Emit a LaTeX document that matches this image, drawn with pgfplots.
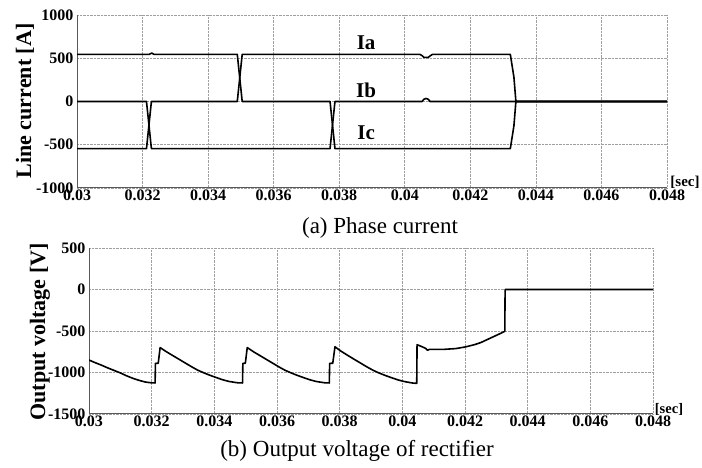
\documentclass[border=0pt]{standalone}
\usepackage{fontspec}
\setmainfont{Liberation Serif}
\usepackage{pgfplots}
\pgfplotsset{compat=1.18}

\pgfplotsset{
  scopestyle/.style={
    scale only axis,
    xmin=0.03, xmax=0.048,
    xtick={0.03,0.032,0.034,0.036,0.038,0.04,0.042,0.044,0.046,0.048},
    xticklabels={0.03,0.032,0.034,0.036,0.038,0.04,0.042,0.044,0.046,0.048},
    major tick length=0pt,
    grid=major,
    grid style={densely dotted, gray!75, line width=0.7pt},
    axis x line*=bottom, axis y line*=left,
    axis line style={-, gray!70!black, line width=1pt},
    ticklabel style={font=\fontsize{16}{16}\selectfont\bfseries},
    xticklabel style={inner sep=2pt},
    /pgf/number format/assume math mode=true,
    scaled ticks=false,
  },
  sig/.style={black, line width=1.6pt, line join=round},
}

\begin{document}
\begin{tikzpicture}
\useasboundingbox (0pt,0pt) rectangle (702pt,468pt);

% (a) phase currents
\begin{axis}[scopestyle,
  at={(77pt,280pt)}, anchor=south west,
  width=590pt, height=173pt,
  ymin=-1000, ymax=1000,
  ytick={-1000,-500,0,500,1000},
  yticklabels={-1000,-500,0,500,1000},
]
\addplot[sig] coordinates {(0.03,545)(0.0322,545)(0.03228,560)(0.03235,545)(0.03489,545)(0.03504,0)(0.03772,0)(0.03787,-545)(0.04040,-545)(0.04322,-545)(0.04333,-280)(0.04339,0)(0.048,0)};
\addplot[sig] coordinates {(0.03,-545)(0.03212,-545)(0.03227,0)(0.03489,0)(0.03504,545)(0.04046,545)(0.04053,530)(0.04058,510)(0.04072,510)(0.04078,530)(0.04085,545)(0.04322,545)(0.04333,280)(0.04339,0)(0.048,0)};
\addplot[sig] coordinates {(0.03,0)(0.03212,0)(0.03227,-545)(0.03772,-545)(0.03787,0)(0.04053,0)(0.04058,25)(0.04065,35)(0.04072,25)(0.04077,0)(0.048,0)};
\node[font=\fontsize{21}{21}\selectfont\bfseries] at (axis cs:0.03882,677) {Ia};
\node[font=\fontsize{21}{21}\selectfont\bfseries] at (axis cs:0.03882,135) {Ib};
\node[font=\fontsize{21}{21}\selectfont\bfseries] at (axis cs:0.03882,-361) {Ic};
\end{axis}

% (b) rectifier output voltage
\begin{axis}[scopestyle,
  at={(89pt,54pt)}, anchor=south west,
  width=564pt, height=166pt,
  ymin=-1500, ymax=500,
  ytick={-1500,-1000,-500,0,500},
  yticklabels={-1500,-1000,-500,0,500},
]
\addplot[sig] coordinates {
(0.03,-850)(0.0302,-882)(0.0304,-912)(0.0306,-945)(0.0308,-975)(0.031,-1005)(0.0312,-1040)(0.0314,-1070)(0.0316,-1095)(0.0318,-1115)(0.032,-1125)(0.03211,-1126)(0.03212,-890)(0.03221,-888)(0.03227,-700)
(0.03247,-750)(0.03267,-795)(0.03287,-840)(0.03307,-885)(0.03327,-930)(0.03347,-972)(0.03367,-1005)(0.03387,-1035)(0.03407,-1062)(0.03427,-1088)(0.03447,-1108)(0.03467,-1120)(0.03477,-1125)(0.0349,-1126)(0.03491,-890)(0.03499,-888)(0.03505,-700)
(0.03525,-750)(0.03545,-795)(0.03565,-840)(0.03585,-885)(0.03605,-930)(0.03625,-972)(0.03645,-1005)(0.03665,-1035)(0.03685,-1062)(0.03705,-1088)(0.03725,-1108)(0.03745,-1120)(0.03755,-1125)(0.03767,-1126)(0.03768,-890)(0.03778,-888)(0.03785,-690)
(0.03805,-745)(0.03825,-792)(0.03845,-838)(0.03865,-883)(0.03885,-928)(0.03905,-970)(0.03925,-1005)(0.03945,-1035)(0.03965,-1062)(0.03985,-1088)(0.04005,-1108)(0.04025,-1122)(0.04035,-1128)(0.04046,-1130)(0.04047,-665)(0.0406,-685)(0.04075,-710)(0.0408,-732)(0.04086,-722)(0.0413,-722)(0.0417,-712)(0.042,-693)(0.0423,-665)(0.0425,-640)(0.0427,-605)(0.0429,-570)(0.0431,-535)(0.04327,-504)(0.04328,0)(0.048,0)};
\end{axis}

% labels and captions
\node[rotate=90, font=\fontsize{22}{22}\selectfont\bfseries] at (25pt,367pt) {Line current [A]};
\node[rotate=90, font=\fontsize{22}{22}\selectfont\bfseries] at (40pt,136pt) {Output voltage [V]};
\node[font=\fontsize{15}{15}\selectfont\bfseries] at (685pt,286pt) {[sec]};
\node[font=\fontsize{14.5}{14.5}\selectfont\bfseries] at (669pt,59pt) {[sec]};
\node[font=\fontsize{23}{23}\selectfont] at (380pt,240pt) {(a) Phase current};
\node[font=\fontsize{23}{23}\selectfont] at (357pt,17pt) {(b) Output voltage of rectifier};
\end{tikzpicture}
\end{document}
